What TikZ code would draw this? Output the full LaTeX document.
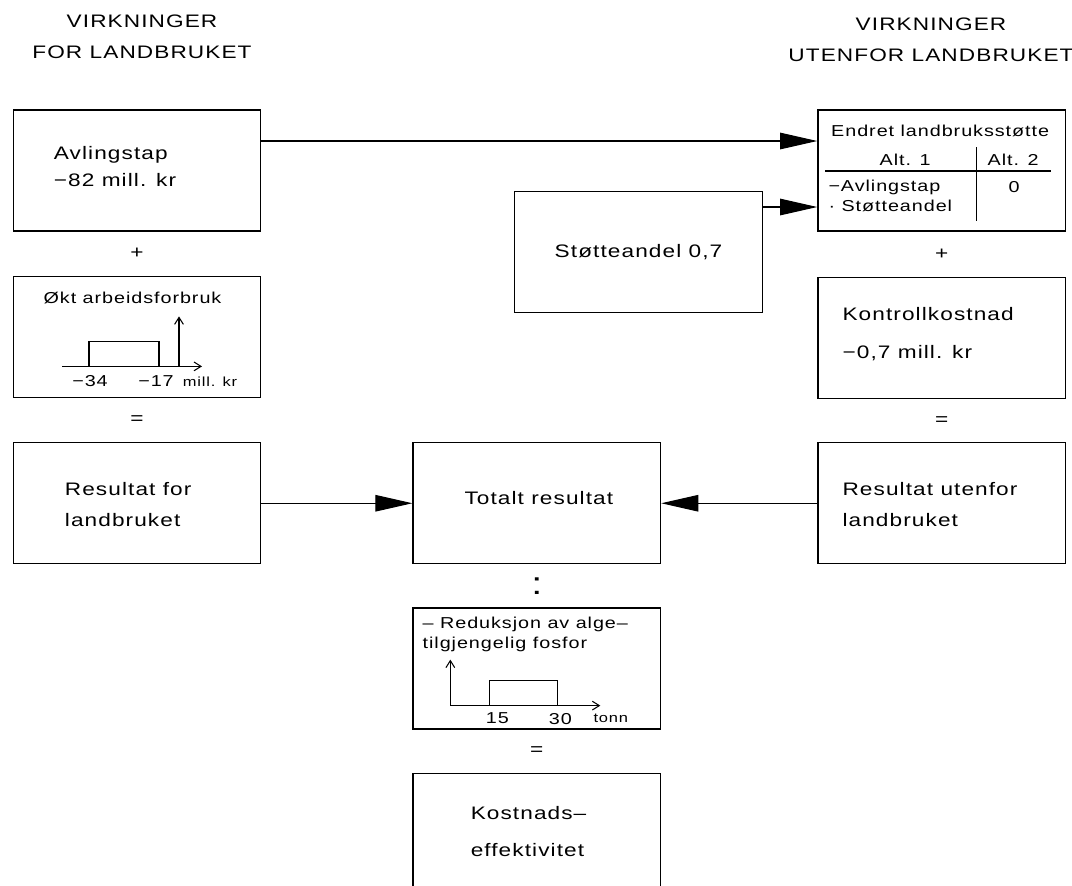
\documentclass[tikz,border=0pt]{standalone}
\usepackage{fontspec}
\setmainfont[FakeStretch=1.25, LetterSpace=6]{Liberation Sans}
\usetikzlibrary{calc, positioning, arrows.meta}

\begin{document}
\begin{tikzpicture}[x=0.02cm, y=-0.02cm,
        box/.style={draw, line width=0.8pt, minimum width=4.95cm, minimum height=2.42cm,
                font=\fontsize{10.3}{17.6}\selectfont},
        txt/.style={font=\fontsize{10.3}{17.6}\selectfont, align=left, inner sep=0pt},
        small/.style={font=\fontsize{9}{11.4}\selectfont, align=left, inner sep=0pt},
        tiny/.style={font=\fontsize{7.5}{8}\selectfont, inner sep=0pt},
        sign/.style={font=\fontsize{10.3}{12}\selectfont, inner sep=0pt},
        bigarrow/.style={-{Triangle[length=0.74cm, width=0.33cm]}, line width=0.6pt},
        axis/.style={-{Straight Barb[length=4pt, width=5pt]}, line width=0.6pt},
    ]
    \useasboundingbox (0,0) rectangle (1072,886);

    % headings
    \node[txt, align=center] (headl) at (142,37) {VIRKNINGER\\FOR LANDBRUKET};
    \node[txt, align=center] (headr) at (931,40) {VIRKNINGER\\UTENFOR LANDBRUKET};

    % left column
    \node[box] (avl) at (137,170.5) {};
    \node[box, below=0.88cm of avl] (okt) {};
    \node[box, below=0.88cm of okt] (resfor) {};

    % middle column
    \node[box, right=3.02cm of resfor] (total) {};
    \node[box, below=0.86cm of total] (red) {};
    \node[box, below=0.86cm of red] (kost) {};
    \node[box] (stotte) at (638.5,252) {Støtteandel 0,7};

    % right column
    \node[box, right=3.12cm of total] (resut) {};
    \node[box, above=0.86cm of resut] (kontroll) {};
    \node[box, above=0.9cm of kontroll] (endret) {};

    % texts in the boxes
    \node[txt, anchor=west] (avltxt) at ($(avl.west)+(41,-4)$) {Avlingstap\\[-2.2pt]−82 mill. kr};
    \node[txt, anchor=west] (resfortxt) at ($(resfor.west)+(52,1.5)$) {Resultat for\\landbruket};
    \node[txt] (totaltxt) at ($(total.center)+(2,-5)$) {Totalt resultat};
    \node[txt, anchor=west] (kontxt) at ($(kontroll.west)+(25,-3.5)$) {Kontrollkostnad\\[4pt]−0,7 mill. kr};
    \node[txt, anchor=west] (resuttxt) at ($(resut.west)+(25,1.5)$) {Resultat utenfor\\landbruket};
    \node[txt, anchor=west] (kosttxt) at ($(kost.west)+(58,-2.5)$) {Kostnads–\\[3.4pt]effektivitet};

    % signs between the boxes
    \path (avl) -- node[sign] (plusl) {+} (okt);
    \path (okt) -- node[sign] (eql) {=} (resfor);
    \path (endret) -- node[sign] (plusr) {+} (kontroll);
    \path (kontroll) -- node[sign] (eqr) {=} (resut);
    \path (total) -- node[sign, font=\fontsize{18}{20}\selectfont] (colon) {:} (red);
    \path (red) -- node[sign] (eqm) {=} (kost);

    % okt arbeidsforbruk
    \begin{scope}[shift={(okt.center)}]
        \node[small] (okttxt) at (-4.5,-38.5) {Økt arbeidsforbruk};
        \draw[axis] (-75,29.5) -- (65,29.5);
        \draw[line width=0.6pt] (-48,29.5) |- (22,4.5) -- (22,29.5);
        \draw[axis] (42,29.5) -- (42,-20.5);
        \node[small] (m34) at (-47,44.5) {−34};
        \node[small] (m17) at (19,44.5) {−17};
        \node[tiny] (millkr) at (73,44.5) {mill. kr};
    \end{scope}

    % reduksjon av fosfor
    \begin{scope}[shift={(red.center)}]
        \node[small, anchor=west] (redtxt) at (-114.5,-34) {– Reduksjon av alge–\\tilgjengelig fosfor};
        \draw[axis] (-86.5,37) -- (-86.5,-9);
        \draw[axis] (-86.5,37) -- (63.5,37);
        \draw[line width=0.6pt] (-47.5,37) |- (20.5,12) -- (20.5,37);
        \node[small] (p15) at (-39.5,50) {15};
        \node[small] (p30) at (23.5,50) {30};
        \node[tiny] (tonn) at (74,50) {tonn};
    \end{scope}

    % endret landbruksstotte
    \begin{scope}[shift={(endret.center)}]
        \node[small] (endtitle) at (-1.5,-39.5) {Endret landbruksstøtte};
        \node[small] (alt1) at (-36.5,-10.5) {Alt. 1};
        \node[small] (alt2) at (71.5,-10.5) {Alt. 2};
        \draw[line width=0.6pt] (-116.5,0.5) -- (109.5,0.5);
        \draw[line width=0.6pt] (34.5,-23.5) -- (34.5,50.5);
        \node[small, anchor=west] (avlrow) at (-113.5,16.5) {−Avlingstap};
        \node[small, anchor=west] (storow) at (-113.5,35.5) {· Støtteandel};
        \node[small] (null) at (72.5,16.5) {0};
    \end{scope}

    % arrows
    \draw[bigarrow] ([yshift=0.59cm]avl.east) -- ([yshift=0.59cm]avl.east -| endret.west);
    \draw[bigarrow] ([yshift=0.9cm]stotte.east) -- ([yshift=0.9cm]stotte.east -| endret.west);
    \draw[bigarrow] (resfor) -- (total);
    \draw[bigarrow] (resut) -- (total);

\end{tikzpicture}
\end{document}
